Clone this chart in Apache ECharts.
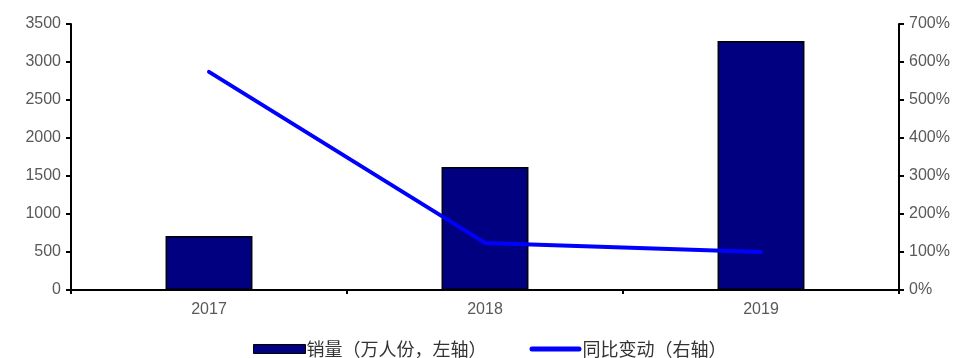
<!DOCTYPE html>
<html>
<head>
<meta charset="utf-8">
<script src="https://cdn.jsdelivr.net/npm/echarts@6/dist/echarts.min.js"></script>
<style>
  html, body { margin: 0; padding: 0; background: #fff; }
  #chart { width: 978px; height: 358px; }
</style>
</head>
<body>
<div id="chart"></div>
<script>
// Sales volume (10k units) and year-over-year change
const years = ['2017', '2018', '2019'];
const salesVolume = [710, 1618, 3276];
const yoyChange = [574, 124, 100];
const leftTicks = [0, 500, 1000, 1500, 2000, 2500, 3000, 3500];
const rightTicks = [0, 100, 200, 300, 400, 500, 600, 700];

const axisText = { color: '#595959', fontSize: 16, fontFamily: 'Liberation Sans, Arial, sans-serif' };

// thick rounded stroke used as the legend mark of the line series
const lineIcon = 'path://M0,0 M52,9 M2.5,2 L49.5,2 A2.5,2.5 0 0 1 49.5,7 L2.5,7 A2.5,2.5 0 0 1 2.5,2 Z';

const chart = echarts.init(document.getElementById('chart'));
chart.setOption({
  animation: false,
  grid: { left: 71, right: 79, top: 24, bottom: 68, containLabel: false },
  legend: {
    top: 335,
    left: 248,
    itemGap: 43,
    itemWidth: 52,
    itemHeight: 9,
    textStyle: { color: '#333', fontSize: 18, fontFamily: 'Noto Sans CJK SC, sans-serif', padding: [0, 0, 0, -4] },
    data: [
      { name: '销量（万人份，左轴）', icon: 'rect', itemStyle: { color: '#000080', borderColor: '#000', borderWidth: 1 } },
      { name: '同比变动（右轴）', icon: lineIcon, itemStyle: { color: '#0000ff', borderWidth: 0 } }
    ]
  },
  xAxis: {
    type: 'category',
    data: years,
    axisLine: { lineStyle: { color: '#000', width: 2 } },
    axisTick: { show: true, alignWithLabel: false, length: 4, lineStyle: { color: '#000', width: 2 } },
    axisLabel: Object.assign({ margin: 12 }, axisText)
  },
  yAxis: [
    {
      type: 'value',
      min: leftTicks[0],
      max: leftTicks[leftTicks.length - 1],
      interval: 500,
      axisLine: { show: true, lineStyle: { color: '#000', width: 2 } },
      axisTick: { show: true, length: 5, lineStyle: { color: '#000', width: 2 } },
      splitLine: { show: false },
      axisLabel: Object.assign({ margin: 10, formatter: v => String(v) }, axisText)
    },
    {
      type: 'value',
      position: 'right',
      min: rightTicks[0],
      max: rightTicks[rightTicks.length - 1],
      interval: 100,
      axisLine: { show: true, lineStyle: { color: '#000', width: 2 } },
      axisTick: { show: true, length: 5, lineStyle: { color: '#000', width: 2 } },
      splitLine: { show: false },
      axisLabel: Object.assign({ margin: 10, formatter: v => v + '%' }, axisText)
    }
  ],
  series: [
    {
      name: '销量（万人份，左轴）',
      type: 'bar',
      yAxisIndex: 0,
      data: salesVolume,
      barWidth: '31.5%',
      itemStyle: { color: '#000080', borderColor: '#000', borderWidth: 1.5 }
    },
    {
      name: '同比变动（右轴）',
      type: 'line',
      yAxisIndex: 1,
      data: yoyChange,
      symbol: 'none',
      lineStyle: { color: '#0000ff', width: 4, cap: 'round' },
      itemStyle: { color: '#0000ff' }
    }
  ]
});
</script>
</body>
</html>
